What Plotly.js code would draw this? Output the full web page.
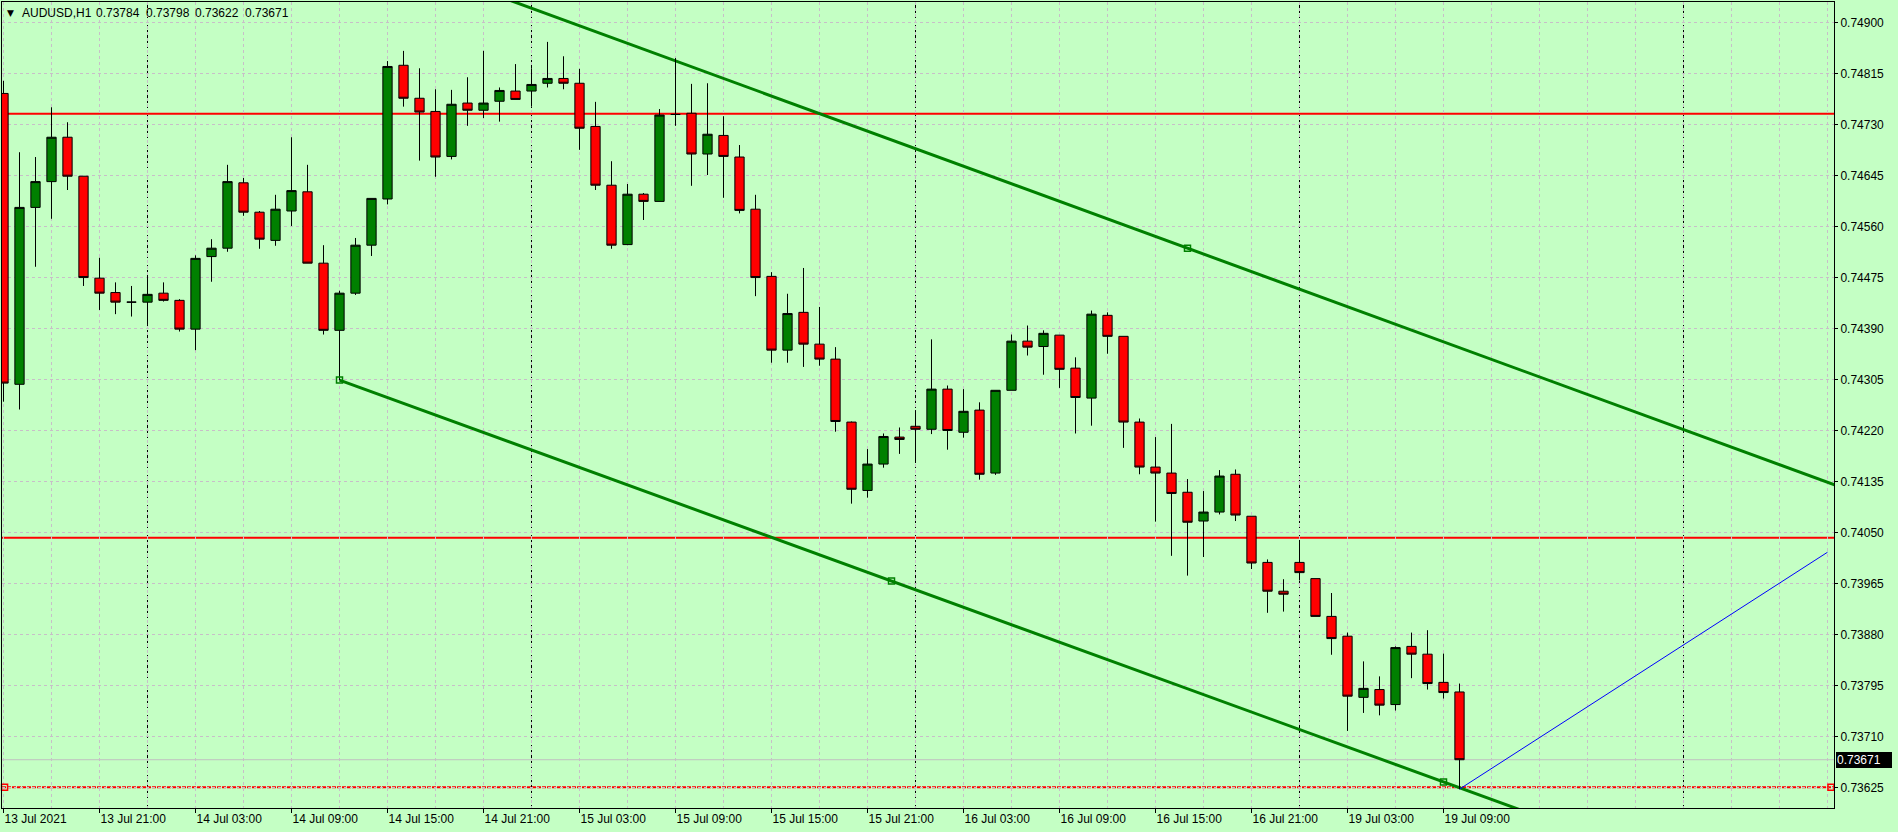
<!DOCTYPE html>
<html>
<head>
<meta charset="utf-8">
<script src="https://cdn.plot.ly/plotly-3.0.1.min.js"></script>
<style>
html,body{margin:0;padding:0;background:#c4ffc4;overflow:hidden}
#chart{width:1898px;height:832px}
</style>
</head>
<body>
<div id="chart"></div>
<script>
// ---------------- data ----------------
const symbol = "AUDUSD,H1";

const openP = [
0.74782,0.74297,0.74592,0.74635,0.74709,0.74644,0.74474,0.74450,0.74434,0.74434,
0.74449,0.74437,0.74389,0.74510,0.74524,0.74633,0.74584,0.74537,0.74586,0.74618,
0.74499,0.74387,0.74449,0.74529,0.74606,0.74829,0.74774,0.74752,0.74677,0.74766,
0.74754,0.74769,0.74786,0.74786,0.74799,0.74807,0.74799,0.74727,0.74629,0.74530,
0.74614,0.74602,0.74747,0.74749,0.74681,0.74712,0.74676,0.74589,0.74477,0.74354,
0.74417,0.74364,0.74339,0.74234,0.74120,0.74164,0.74209,0.74227,0.74222,0.74289,
0.74217,0.74254,0.74149,0.74287,0.74369,0.74360,0.74379,0.74324,0.74274,0.74412,
0.74377,0.74234,0.74159,0.74149,0.74117,0.74069,0.74084,0.74147,0.74077,0.74000,
0.73952,0.74000,0.73973,0.73910,0.73877,0.73775,0.73788,0.73763,0.73860,0.73847,
0.73800,0.73784];

const highP = [
0.74803,0.74684,0.74676,0.74759,0.74734,0.74644,0.74508,0.74467,0.74461,0.74478,
0.74467,0.74439,0.74512,0.74539,0.74663,0.74641,0.74586,0.74613,0.74709,0.74663,
0.74529,0.74453,0.74541,0.74607,0.74836,0.74853,0.74824,0.74789,0.74788,0.74809,
0.74853,0.74792,0.74831,0.74824,0.74868,0.74844,0.74823,0.74768,0.74669,0.74631,
0.74616,0.74756,0.74841,0.74798,0.74799,0.74744,0.74696,0.74613,0.74484,0.74448,
0.74491,0.74426,0.74359,0.74235,0.74189,0.74215,0.74225,0.74254,0.74372,0.74295,
0.74289,0.74267,0.74287,0.74380,0.74395,0.74387,0.74379,0.74342,0.74420,0.74417,
0.74377,0.74240,0.74209,0.74231,0.74139,0.74119,0.74154,0.74155,0.74077,0.74005,
0.73972,0.74034,0.73973,0.73949,0.73883,0.73835,0.73810,0.73860,0.73883,0.73887,
0.73848,0.73798];

const lowP = [
0.74268,0.74255,0.74493,0.74573,0.74621,0.74461,0.74421,0.74414,0.74410,0.74396,
0.74435,0.74385,0.74354,0.74468,0.74518,0.74578,0.74523,0.74528,0.74561,0.74499,
0.74380,0.74304,0.74446,0.74511,0.74597,0.74760,0.74670,0.74643,0.74672,0.74728,
0.74741,0.74735,0.74772,0.74760,0.74792,0.74789,0.74688,0.74621,0.74523,0.74529,
0.74571,0.74602,0.74728,0.74628,0.74646,0.74608,0.74582,0.74444,0.74333,0.74333,
0.74326,0.74328,0.74218,0.74098,0.74108,0.74158,0.74181,0.74166,0.74214,0.74188,
0.74208,0.74138,0.74146,0.74287,0.74345,0.74313,0.74291,0.74215,0.74228,0.74348,
0.74191,0.74147,0.74068,0.74011,0.73978,0.74009,0.74080,0.74069,0.73989,0.73916,
0.73918,0.73970,0.73910,0.73846,0.73719,0.73749,0.73745,0.73753,0.73807,0.73788,
0.73773,0.73622];

const closeP = [
0.74299,0.74592,0.74635,0.74709,0.74644,0.74475,0.74449,0.74434,0.74434,0.74447,
0.74437,0.74389,0.74507,0.74524,0.74635,0.74584,0.74539,0.74589,0.74620,0.74499,
0.74387,0.74449,0.74529,0.74607,0.74827,0.74774,0.74751,0.74676,0.74764,0.74754,
0.74766,0.74787,0.74772,0.74797,0.74807,0.74799,0.74724,0.74629,0.74529,0.74614,
0.74602,0.74746,0.74747,0.74681,0.74714,0.74677,0.74587,0.74475,0.74354,0.74415,
0.74364,0.74339,0.74235,0.74122,0.74164,0.74210,0.74205,0.74222,0.74289,0.74220,
0.74252,0.74147,0.74287,0.74369,0.74359,0.74382,0.74322,0.74275,0.74414,0.74377,
0.74234,0.74159,0.74149,0.74115,0.74067,0.74084,0.74144,0.74079,0.73999,0.73952,
0.73947,0.73983,0.73910,0.73873,0.73777,0.73790,0.73762,0.73858,0.73847,0.73798,
0.73783,0.73671];

// time-axis labels (bar index -> label)
const tickIdx = [0,6,12,18,24,30,36,42,48,54,60,66,72,78,84,90];
const tickLabels = ["13 Jul 2021","13 Jul 21:00","14 Jul 03:00","14 Jul 09:00","14 Jul 15:00",
  "14 Jul 21:00","15 Jul 03:00","15 Jul 09:00","15 Jul 15:00","15 Jul 21:00","16 Jul 03:00",
  "16 Jul 09:00","16 Jul 15:00","16 Jul 21:00","19 Jul 03:00","19 Jul 09:00"];
// day separators (bar index of 00:00)
const daySeparators = [9,33,57,81,105];

// objects
const hLevels = [0.74748, 0.74041];
const selectedLevel = 0.73625;
const channelLowerX = [21, 90];
const channelLowerY = [0.74304, 0.73634];
const channelUpperX = [20, 128];
const channelUpperY = [0.75051, 0.73997];
const blueX = [91, 114];
const blueY = [0.73622, 0.74017];

// ---------------- layout helpers ----------------
const W = 1898, H = 832;
const M = {l: 2, r: 64, t: 2, b: 24, pad: 0};
const xRange = [-0.094, 114.406];
const yRange = [0.735905, 0.749345];
const BG = "rgb(196,255,196)";
const GRID = "rgb(200,190,200)";
const FONT = "Liberation Sans, Arial, sans-serif";
const px2paperX = px => (px - M.l) / (W - M.l - M.r);
const px2paperY = py => 1 - (py - M.t) / (H - M.t - M.b);

const idx = openP.map((_, i) => i);
const n = idx.length;

function lineAt(xs, ys, x) {
  const s = (ys[1] - ys[0]) / (xs[1] - xs[0]);
  return ys[0] + s * (x - xs[0]);
}

const shapes = [];
// day separators
daySeparators.forEach(d => shapes.push({
  type: "line", xref: "x", yref: "paper", x0: d, x1: d, y0: 0, y1: 1,
  line: {color: "#000", width: 1, dash: "3px,2px"}, layer: "between"
}));
// bid line
shapes.push({type: "line", xref: "paper", yref: "y", x0: 0, x1: 1,
  y0: closeP[n-1], y1: closeP[n-1], line: {color: "rgb(192,192,192)", width: 1}, layer: "between"});
// horizontal levels
hLevels.forEach(v => shapes.push({type: "line", xref: "paper", yref: "y", x0: 0, x1: 1,
  y0: v, y1: v, line: {color: "#ff0000", width: 2}, layer: "between"}));
shapes.push({type: "line", xref: "paper", yref: "y", x0: 0, x1: 1,
  y0: selectedLevel, y1: selectedLevel, line: {color: "#ff0000", width: 2, dash: "4px,1px"}, layer: "between"});
// channel rays
[[channelUpperX, channelUpperY], [channelLowerX, channelLowerY]].forEach(([xs, ys]) => {
  shapes.push({type: "line", xref: "x", yref: "y",
    x0: xs[0], y0: ys[0], x1: xRange[1] + 1, y1: lineAt(xs, ys, xRange[1] + 1),
    line: {color: "#008000", width: 3}, layer: "between"});
});
// blue segment
shapes.push({type: "line", xref: "x", yref: "y", x0: blueX[0], y0: blueY[0], x1: blueX[1], y1: blueY[1],
  line: {color: "#0000ff", width: 1}, layer: "between"});

const candles = {
  type: "candlestick", x: idx, open: openP, high: highP, low: lowP, close: closeP,
  increasing: {fillcolor: "#008000", line: {color: "#000", width: 1}},
  decreasing: {fillcolor: "#ff0000", line: {color: "#000", width: 1}},
  whiskerwidth: 0, hoverinfo: "skip", showlegend: false
};

// selection squares on objects
const midL = (channelLowerX[0] + channelLowerX[1]) / 2;
const midU = (channelUpperX[0] + channelUpperX[1]) / 2;
const greenSquares = {
  type: "scatter", mode: "markers",
  x: [channelLowerX[0], midL, channelLowerX[1], channelUpperX[0], midU, channelUpperX[1]],
  y: [channelLowerY[0], lineAt(channelLowerX, channelLowerY, midL), channelLowerY[1],
      channelUpperY[0], lineAt(channelUpperX, channelUpperY, midU), channelUpperY[1]],
  marker: {symbol: "square-open", size: 6, color: "#008000", line: {width: 1.5, color: "#008000"}},
  hoverinfo: "skip", showlegend: false
};
const redSquares = {
  type: "scatter", mode: "markers",
  x: [xRange[0] + 0.16, xRange[1] - 0.19], y: [selectedLevel, selectedLevel],
  marker: {symbol: "square-open", size: 6, color: "#ff0000", line: {width: 1.5, color: "#ff0000"}},
  hoverinfo: "skip", showlegend: false, cliponaxis: false
};

const annotations = [];
const headerY = px2paperY(13);
annotations.push({xref: "paper", yref: "paper", x: px2paperX(5), y: headerY, xanchor: "left", yanchor: "middle",
  text: "▼", showarrow: false, font: {family: "DejaVu Sans", size: 9, color: "#000"}});
annotations.push({xref: "paper", yref: "paper", x: px2paperX(19.5), y: headerY, xanchor: "left", yanchor: "middle",
  text: symbol, showarrow: false, font: {family: FONT, size: 12, color: "#000"}});
const ohlcLast = [openP[n-1], highP[n-1], lowP[n-1], closeP[n-1]];
const headerX = [93.5, 143.5, 193.2, 243.2];
ohlcLast.forEach((v, k) => annotations.push({xref: "paper", yref: "paper", x: px2paperX(headerX[k]), y: headerY,
  xanchor: "left", yanchor: "middle", text: v.toFixed(5), showarrow: false,
  font: {family: FONT, size: 12, color: "#000"}}));
// current price label
annotations.push({xref: "paper", yref: "y", x: 1, xshift: 2, y: closeP[n-1], xanchor: "left", yanchor: "middle",
  text: closeP[n-1].toFixed(5), showarrow: false, bgcolor: "#000", borderpad: 1, borderwidth: 0,
  width: 54, height: 14, align: "left", font: {family: FONT, size: 12, color: "#fff"}});

const layout = {
  width: W, height: H, margin: M,
  paper_bgcolor: BG, plot_bgcolor: BG,
  showlegend: false, dragmode: false,
  boxgap: 0.42, boxgroupgap: 0,
  xaxis: {
    range: xRange, type: "linear", fixedrange: true,
    tickmode: "array", tickvals: tickIdx, ticktext: tickLabels,
    ticks: "outside", ticklen: 4, tickcolor: "#000", tickwidth: 1,
    ticklabelposition: "outside right",
    tickfont: {family: FONT, size: 12, color: "#000"},
    showgrid: false, zeroline: false,
    showline: true, mirror: true, linecolor: "#000", linewidth: 1,
    rangeslider: {visible: false},
    minor: {tick0: 0, dtick: 3, showgrid: true, gridcolor: GRID, griddash: "3px,3px", gridwidth: 1, ticks: ""}
  },
  yaxis: {
    range: yRange, side: "right", fixedrange: true,
    tick0: 0.73625, dtick: 0.00085, tickformat: ".5f",
    ticks: "outside", ticklen: 3, tickcolor: "#000", tickwidth: 1,
    tickfont: {family: FONT, size: 12, color: "#000"},
    showgrid: true, gridcolor: GRID, griddash: "3px,3px", gridwidth: 1,
    zeroline: false, showline: true, mirror: true, linecolor: "#000", linewidth: 1
  },
  shapes: shapes,
  annotations: annotations
};

Plotly.newPlot("chart", [candles, greenSquares, redSquares], layout, {staticPlot: true, displayModeBar: false});
</script>
</body>
</html>
